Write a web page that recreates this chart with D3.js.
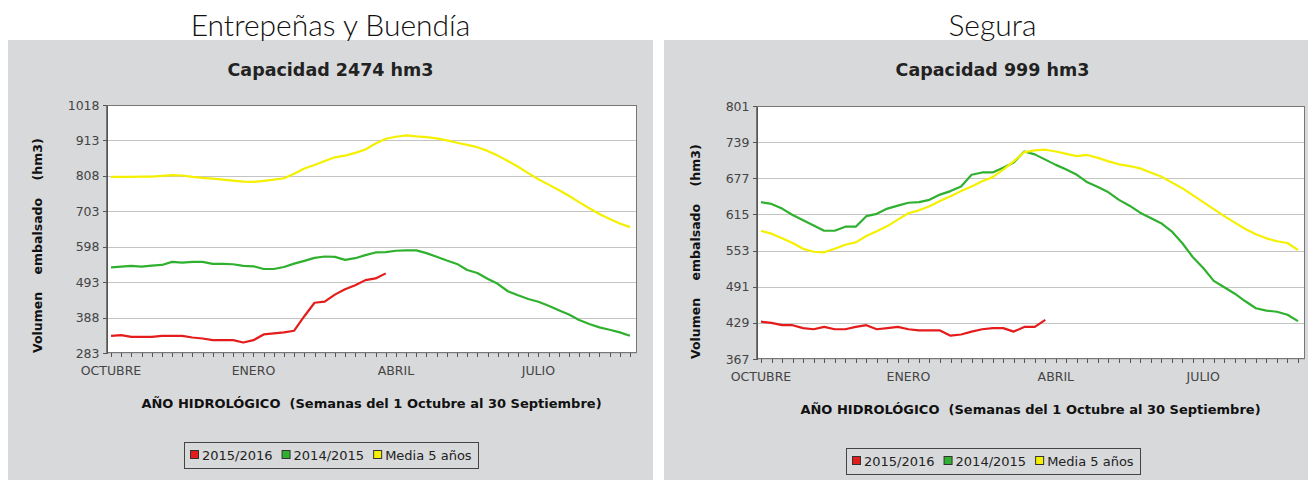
<!DOCTYPE html>
<html lang="es">
<head>
<meta charset="UTF-8">
<title>Entrepeñas y Buendía / Segura</title>
<script src="https://cdn.jsdelivr.net/npm/d3@7"></script>
<style>
    body { margin: 0; background: #fff; }
    svg { display: block; }
    .name { font-family: Lato, "Open Sans", sans-serif; font-weight: 300; font-size: 30px; fill: #111; }
    .cap { font-family: "DejaVu Sans", sans-serif; font-weight: bold; font-size: 17.5px; fill: #222; }
    .axis text { font-family: "DejaVu Sans", sans-serif; font-size: 12.5px; fill: #444; }
    .axis line, .axis path { stroke: #555; shape-rendering: crispEdges; }
    .month { font-family: "DejaVu Sans", sans-serif; font-size: 12.5px; fill: #444; }
    .xtitle { font-family: "DejaVu Sans", sans-serif; font-weight: bold; font-size: 13px; fill: #111; white-space: pre; }
    .ytitle { font-family: "DejaVu Sans", sans-serif; font-weight: bold; font-size: 12.5px; fill: #111; white-space: pre; }
    .leg { font-family: "DejaVu Sans", sans-serif; font-size: 13px; fill: #222; }
</style>
</head>
<body>
<script>
// semanas del año hidrológico (1 oct - 30 sep)
const weeks = d3.range(52);
const monthLabels = ["OCTUBRE", "ENERO", "ABRIL", "JULIO"];
const monthWeeks = [0, 14, 28, 42];

const seriesNames = ["2015/2016", "2014/2015", "Media 5 años"];
const seriesColors = ["#e41c1c", "#2fb12f", "#f4f000"];

// Entrepeñas y Buendía
const entTicks = [283, 388, 493, 598, 703, 808, 913, 1018];
const ent2015 = [334, 336, 331, 331, 331, 334, 334, 334, 329, 326, 321, 321, 321, 314, 321, 338, 341, 344, 349, 392,
    432, 435, 456, 472, 484, 499, 504, 519];
const ent2014 = [537, 539, 541, 539, 542, 544, 553, 551, 553, 553, 547, 547, 546, 541, 540, 532, 532, 538, 548, 556,
    565, 569, 568, 559, 564, 573, 581, 582, 586, 587, 587, 579, 568, 557, 547, 529, 520, 503, 488, 466,
    454, 443, 435, 423, 410, 397, 381, 369, 359, 352, 344, 334];
const entMedia = [805, 805, 805, 806, 806, 808, 810, 809, 805, 802, 800, 797, 794, 791, 790, 793, 797, 801, 814, 830,
    840, 852, 863, 868, 876, 886, 904, 918, 924, 928, 925, 923, 919, 913, 906, 900, 893, 882, 868, 852,
    835, 816, 798, 782, 766, 749, 730, 712, 695, 680, 667, 656];

// Segura
const segTicks = [367, 429, 491, 553, 615, 677, 739, 801];
const seg2015 = [431, 429, 425, 425, 420, 418, 422, 418, 418, 422, 425, 418, 420, 422, 418, 416, 416, 416, 407, 409,
    414, 418, 420, 420, 414, 422, 422, 434];
const seg2014 = [636, 633, 625, 614, 605, 596, 587, 587, 594, 594, 612, 616, 625, 630, 635, 636, 640, 649, 655, 663,
    683, 687, 687, 695, 704, 723, 718, 709, 700, 692, 683, 670, 662, 653, 640, 630, 618, 609, 600, 586,
    566, 542, 523, 501, 490, 479, 466, 454, 450, 448, 443, 432];
const segMedia = [587, 582, 574, 566, 556, 551, 550, 556, 563, 567, 578, 586, 595, 606, 617, 622, 629, 638, 646, 655,
    663, 672, 679, 692, 706, 722, 725, 726, 723, 719, 715, 717, 712, 706, 701, 698, 694, 687, 680, 670,
    660, 648, 636, 624, 612, 601, 590, 581, 574, 569, 566, 554];

const svg = d3.select("body").append("svg").attr("width", 1308).attr("height", 480);

function drawChart(c) {
    const g = svg.append("g");
    const plotRight = c.plotLeft + c.plotWidth;
    const plotBottom = c.plotTop + c.plotHeight;
    const cx = c.panelX + c.panelW / 2;

    g.append("rect")
        .attr("x", c.panelX).attr("y", 40)
        .attr("width", c.panelW).attr("height", 440)
        .attr("fill", "#d8d9db");

    g.append("text").attr("class", "name")
        .attr("x", cx).attr("y", 36).attr("text-anchor", "middle")
        .text(c.name);

    g.append("text").attr("class", "cap")
        .attr("x", cx).attr("y", 76).attr("text-anchor", "middle")
        .text("Capacidad " + c.capacity + " hm3");

    const x = d3.scaleLinear().domain([0, 51]).range([c.plotLeft + c.xPad[0], plotRight - c.xPad[1]]);
    const y = d3.scaleLinear().domain(d3.extent(c.ticks)).range([plotBottom, c.plotTop]);

    g.append("rect")
        .attr("x", c.plotLeft).attr("y", c.plotTop)
        .attr("width", c.plotWidth).attr("height", c.plotHeight)
        .attr("fill", "#fff");

    g.append("g").selectAll("line")
        .data(c.ticks)
        .join("line")
        .attr("x1", c.plotLeft).attr("x2", plotRight)
        .attr("y1", d => Math.round(y(d)) + 0.5).attr("y2", d => Math.round(y(d)) + 0.5)
        .attr("stroke", "#c4c4c4")
        .attr("shape-rendering", "crispEdges");

    const line = d3.line().x((d, i) => x(i)).y(d => y(d));
    g.append("g").selectAll("path")
        .data(c.series)
        .join("path")
        .attr("d", d => line(d))
        .attr("fill", "none")
        .attr("stroke", (d, i) => seriesColors[i])
        .attr("stroke-width", 2.2)
        .attr("stroke-linejoin", "round");

    g.append("rect")
        .attr("x", c.plotLeft + 0.5).attr("y", c.plotTop + 0.5)
        .attr("width", c.plotWidth - 1).attr("height", c.plotHeight - 1)
        .attr("fill", "none").attr("stroke", "#777")
        .attr("shape-rendering", "crispEdges");

    g.append("g").attr("class", "axis")
        .attr("transform", `translate(${c.plotLeft + 0.5},0)`)
        .call(d3.axisLeft(y).tickValues(c.ticks).tickFormat(d3.format("d"))
            .tickSize(4).tickSizeOuter(0).tickPadding(3));

    g.append("g").attr("class", "axis")
        .attr("transform", `translate(0,${plotBottom - 0.5})`)
        .call(d3.axisBottom(x).tickValues(weeks).tickSize(4).tickSizeOuter(0).tickFormat(""))
        .call(a => a.select(".domain").remove());

    g.append("g").selectAll("text")
        .data(monthLabels)
        .join("text")
        .attr("class", "month")
        .attr("x", (d, i) => x(monthWeeks[i]))
        .attr("y", plotBottom + 22)
        .attr("text-anchor", "middle")
        .text(d => d);

    g.append("text").attr("class", "xtitle")
        .attr("x", c.plotLeft + c.plotWidth / 2).attr("y", plotBottom + 55)
        .attr("text-anchor", "middle")
        .text("AÑO HIDROLÓGICO  (Semanas del 1 Octubre al 30 Septiembre)");

    const yx = c.panelX + c.yTitleX;
    g.append("text").attr("class", "ytitle")
        .attr("transform", `translate(${yx},${plotBottom}) rotate(-90)`)
        .text("Volumen    embalsado    (hm3)");

    // leyenda
    const lg = g.append("g");
    let pos = 6;
    seriesNames.forEach((n, i) => {
        lg.append("rect")
            .attr("x", pos + 0.5).attr("y", -4.5)
            .attr("width", 8).attr("height", 8)
            .attr("fill", seriesColors[i]).attr("stroke", "#333");
        const t = lg.append("text").attr("class", "leg")
            .attr("x", pos + 12).attr("y", 4.5)
            .text(n);
        pos += 12 + t.node().getComputedTextLength() + 9;
    });
    const boxW = Math.round(pos - 3);
    lg.insert("rect", ":first-child")
        .attr("x", 0.5).attr("y", -12.5)
        .attr("width", boxW).attr("height", 26)
        .attr("fill", "#d8d9db").attr("stroke", "#444")
        .attr("shape-rendering", "crispEdges");
    lg.attr("transform", `translate(${Math.round(cx - boxW / 2)},${Math.round(plotBottom + 102)})`);
}

drawChart({
    name: "Entrepeñas y Buendía", capacity: 2474,
    panelX: 8, panelW: 645,
    plotLeft: 106, plotTop: 105, plotWidth: 531, plotHeight: 248,
    xPad: [5, 7], yTitleX: 34,
    ticks: entTicks,
    series: [ent2015, ent2014, entMedia]
});

drawChart({
    name: "Segura", capacity: 999,
    panelX: 664, panelW: 657,
    plotLeft: 756, plotTop: 106, plotWidth: 549, plotHeight: 253,
    xPad: [5, 7], yTitleX: 36,
    ticks: segTicks,
    series: [seg2015, seg2014, segMedia]
});
</script>
</body>
</html>
